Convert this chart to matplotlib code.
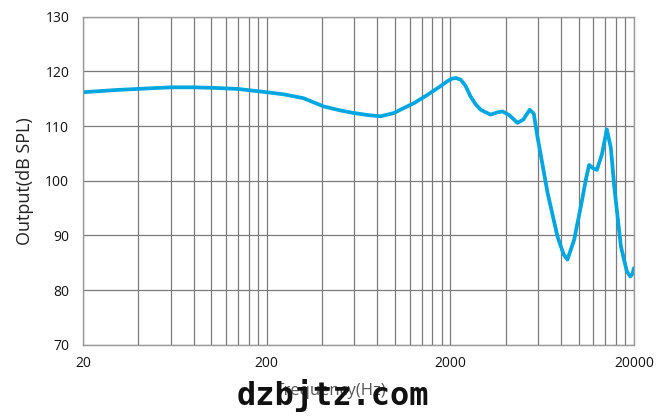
import matplotlib
matplotlib.use("Agg")
import matplotlib.pyplot as plt
import numpy as np

# frequency response
freq = [20, 30, 45, 60, 80, 103, 140, 200, 250, 318, 409, 500, 597, 720, 835, 986,
        1100, 1268, 1500, 1750, 1928, 2050, 2150, 2280, 2420, 2583, 2750, 2930, 3320, 3600,
        3850, 4200, 4645, 5000, 5420, 5700, 5970, 6780, 7680, 8300, 8700, 9460, 10290,
        11000, 11420, 12000, 12580, 13400, 14260, 15000, 15640, 17010, 18300, 19130,
        19700, 20000]
spl = [116.2, 116.6, 116.9, 117.1, 117.1, 117.0, 116.8, 116.2, 115.8, 115.1, 113.6,
       112.9, 112.4, 112.0, 111.8, 112.4, 113.2, 114.2, 115.7, 117.2, 118.2, 118.7,
       118.8, 118.5, 117.4, 115.4, 114.0, 113.0, 112.1, 112.5, 112.7, 112.0, 110.6, 111.2,
       113.0, 112.3, 108.1, 97.8, 89.8, 86.5, 85.6, 89.2, 95.3, 100.5, 102.9, 102.3,
       102.0, 104.8, 109.4, 106.0, 99.0, 88.0, 83.5, 82.5, 83.0, 84.0]

xticks = [20, 200, 2000, 20000]
yticks = [70, 80, 90, 100, 110, 120, 130]

plt.rcParams['font.family'] = ['Open Sans', 'DejaVu Sans']

fig = plt.figure(figsize=(6.7, 4.2), dpi=100)
ax = fig.add_axes([0.124, 0.179, 0.822, 0.781])

ax.plot(freq, spl, color='#00A6E0', linewidth=2.7, solid_capstyle='round',
        solid_joinstyle='round')

ax.set_xscale('log')
ax.set_xlim(20, 20000)
ax.set_ylim(70, 130)

# vertical grid every 20, 40, ... 200 in each decade
vlines = sorted(set(20 * m * 10 ** d for d in range(3) for m in range(1, 11)))
for v in vlines:
    ax.axvline(v, color='#7a7a7a', linewidth=0.9, zorder=0)
for h in yticks:
    ax.axhline(h, color='#7a7a7a', linewidth=0.9, zorder=0)

ax.set_xticks(xticks)
ax.set_xticklabels([str(t) for t in xticks])
ax.xaxis.set_minor_locator(matplotlib.ticker.NullLocator())
ax.set_yticks(yticks)
ax.tick_params(length=0, labelsize=10, colors='#111111', pad=8)
ax.tick_params(axis='y', pad=10)

for s in ax.spines.values():
    s.set_color('#9a9a9a')
    s.set_linewidth(1.0)

ax.set_ylabel('Output(dB SPL)', fontsize=13, color='#222222', labelpad=8)

fig.text(0.494, 0.07, 'Frequency(Hz)', fontsize=12, color='#555555',
         ha='center', va='center')
fig.text(0.497, 0.058, 'dzbjtz.com', fontsize=23, fontweight='bold',
         family='DejaVu Sans Mono', color='#111111', ha='center', va='center')

fig.savefig('out.png', dpi=100)
